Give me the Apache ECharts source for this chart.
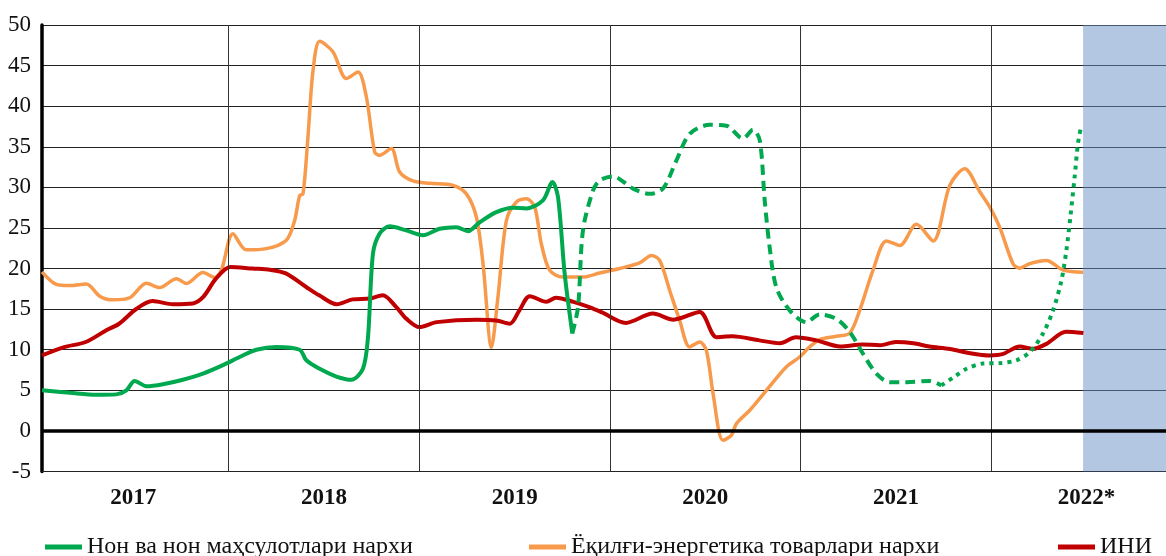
<!DOCTYPE html>
<html>
<head>
<meta charset="utf-8">
<script src="https://cdn.jsdelivr.net/npm/echarts@6/dist/echarts.min.js"></script>
<style>html,body{margin:0;padding:0;background:#fff}#c{width:1166px;height:556px}</style>
</head>
<body>
<div id="c"></div>
<script>
// x = months since Jan 2017
const yearLabels = ['2017','2018','2019','2020','2021','2022*'];
const yearCenters = [6,18,30,42,54,66];
const yearBounds = [12,24,36,48,60];
const forecastStart = 65.78;

const seriesNames = ['Нон ва нон маҳсулотлари нархи','Ёқилғи-энергетика товарлари нархи','ИНИ'];

const breadSolid = [[0.25,5.0],[2.0,4.7],[3.67,4.45],[4.93,4.5],[5.56,5.0],[6.08,6.15],[6.82,5.5],[7.86,5.75],[9.12,6.3],[10.38,7.05],[11.64,8.1],[12.69,9.1],[13.74,10.0],[15.0,10.35],[16.47,10.0],[16.89,8.7],[17.73,7.65],[18.78,6.7],[19.72,6.3],[20.45,7.65],[20.77,11.55],[21.08,21.8],[21.5,24.3],[22.13,25.2],[23.18,24.7],[24.23,24.1],[25.28,24.9],[26.33,25.1],[27.06,24.6],[27.8,25.7],[28.85,26.95],[29.9,27.5],[30.74,27.4],[31.78,28.4],[32.38,30.65],[32.73,28.8],[33.15,19.35],[33.63,12.0]];
const breadDashed = [[33.63,12.0],[33.99,15.25],[34.3,24.7],[34.93,29.6],[35.35,30.85],[36.19,31.35],[37.45,29.85],[38.5,29.2],[39.34,29.85],[40.18,33.3],[41.02,36.6],[42.28,37.7],[43.33,37.6],[44.37,36.0],[45.0,37.1],[45.43,35.8],[45.74,28.4],[46.05,22.65],[46.47,17.7],[47.31,14.85],[48.36,13.4],[49.2,14.35],[50.25,13.8],[51.09,12.2],[51.93,9.5],[52.77,7.05],[53.61,6.0],[54.66,6.0],[56.13,6.15],[56.86,5.6]];
const breadDotted = [[56.86,5.6],[57.59,6.55],[58.44,7.65],[59.48,8.3],[60.53,8.35],[61.58,8.7],[62.42,9.7],[63.26,12.0],[63.89,14.85],[64.42,18.55],[64.73,22.25],[64.98,26.35],[65.25,31.3],[65.46,35.4],[65.67,37.65]];

const fuel = [[0.25,19.6],[1.15,18.05],[1.99,17.9],[3.04,18.1],[3.88,16.6],[4.71,16.15],[5.77,16.4],[6.82,18.2],[7.65,17.65],[8.71,18.75],[9.34,18.15],[10.38,19.5],[11.12,18.9],[11.54,19.8],[12.27,24.3],[13.11,22.3],[14.37,22.45],[15.63,23.5],[16.15,25.9],[16.47,29.0],[16.68,29.2],[16.99,36.2],[17.31,44.4],[17.73,48.0],[18.56,46.7],[19.41,43.4],[20.14,44.2],[20.67,41.1],[21.19,34.35],[21.5,33.95],[22.24,34.8],[22.76,31.9],[23.6,30.8],[24.65,30.5],[26.12,30.25],[26.96,29.2],[27.59,26.35],[28.01,20.6],[28.54,10.3],[28.95,16.5],[29.48,25.9],[30.11,28.2],[30.74,28.6],[31.26,27.6],[31.68,23.05],[32.2,19.8],[33.04,18.95],[34.3,18.95],[35.35,19.45],[36.61,20.0],[37.87,20.7],[38.61,21.6],[39.13,21.0],[39.76,17.3],[40.39,13.6],[41.02,10.35],[41.65,10.95],[42.07,9.9],[42.49,4.6],[43.11,-1.15],[43.64,-0.55],[43.96,0.9],[44.8,2.55],[45.85,5.0],[47.11,7.9],[47.94,9.1],[48.57,10.35],[49.2,11.25],[50.25,11.65],[51.09,12.05],[51.72,14.85],[52.56,19.8],[53.4,23.4],[54.24,22.85],[55.29,25.45],[56.34,23.4],[57.39,30.25],[58.33,32.3],[59.27,29.5],[59.9,27.6],[60.53,25.1],[61.37,20.6],[61.79,20.05],[62.42,20.6],[63.47,21.0],[64.52,19.8],[65.78,19.55]];

const cpi = [[0.25,9.3],[1.6,10.3],[3.0,10.95],[4.3,12.4],[5.1,13.2],[6.2,15.05],[7.2,16.0],[8.5,15.6],[9.75,15.7],[10.4,16.5],[11.2,18.75],[12.1,20.2],[13.5,20.0],[14.6,19.85],[15.6,19.4],[16.9,17.7],[17.7,16.7],[18.8,15.6],[19.8,16.2],[20.9,16.3],[21.7,16.7],[22.55,15.25],[23.2,13.8],[24.0,12.8],[25.1,13.4],[27.6,13.7],[28.85,13.6],[29.7,13.2],[30.3,14.85],[30.95,16.6],[32.0,15.9],[32.6,16.4],[33.7,15.9],[34.7,15.25],[35.5,14.6],[37.0,13.3],[38.7,14.45],[40.0,13.7],[41.65,14.65],[42.7,11.55],[43.7,11.65],[45.4,11.15],[46.7,10.8],[47.7,11.55],[49.0,11.15],[50.5,10.4],[51.9,10.65],[53.0,10.55],[54.0,10.95],[55.1,10.8],[56.1,10.4],[57.4,10.1],[58.6,9.6],[59.9,9.3],[60.7,9.45],[61.8,10.4],[62.6,10.1],[63.5,10.75],[64.7,12.2],[65.8,12.05]];

const GREEN = '#00A84F', ORANGE = '#F79A4C', RED = '#C00000';
const FONT = 'Liberation Serif';

const chart = echarts.init(document.getElementById('c'), null, {renderer:'canvas'});
const legendCommon = {
  top: 535, icon: 'rect', itemWidth: 37, itemHeight: 5, padding: 0,
  textStyle: {fontFamily: FONT, fontSize: 24, color: '#111'}, selectedMode: false
};
chart.setOption({
  animation: false,
  backgroundColor: '#fff',
  grid: {left: 42, right: 0, top: 25, bottom: 84.5, containLabel: false},
  legend: [
    Object.assign({data: [seriesNames[0]], left: 45}, legendCommon),
    Object.assign({data: [seriesNames[1]], left: 529}, legendCommon),
    Object.assign({data: [seriesNames[2]], left: 1058}, legendCommon)
  ],
  xAxis: {
    type: 'value', min: 0.25, max: 71,
    axisLine: {show: true, onZero: false, lineStyle: {color: '#222', width: 1}},
    axisTick: {show: false},
    splitLine: {show: false},
    axisLabel: {
      customValues: yearCenters,
      formatter: v => yearLabels[yearCenters.indexOf(Math.round(v))] || '',
      fontFamily: FONT, fontWeight: 'bold', fontSize: 23, color: '#111', margin: 15
    }
  },
  yAxis: {
    type: 'value', min: -5, max: 50, interval: 5,
    axisLine: {show: true, lineStyle: {color: '#000', width: 3.5}},
    axisTick: {show: false},
    splitLine: {show: true, lineStyle: {color: '#222', width: 1}},
    axisLabel: {fontFamily: FONT, fontSize: 23, color: '#111', margin: 11}
  },
  series: [
    {
      type: 'line', name: 'frame', data: [], z: 1, silent: true,
      markArea: {silent: true, itemStyle: {color: 'rgba(103,143,199,0.5)'},
        data: [[{xAxis: forecastStart}, {xAxis: 71}]]},
      markLine: {silent: true, symbol: 'none', label: {show: false},
        data: yearBounds.map(v => ({xAxis: v, lineStyle: {color: '#333', width: 1, type: 'solid'}}))
          .concat([{yAxis: 0, lineStyle: {color: '#000', width: 3.5, type: 'solid'}}])}
    },
    {type: 'line', name: seriesNames[1], data: fuel, smooth: 0.3, showSymbol: false, z: 3,
      lineStyle: {color: ORANGE, width: 3.5}, itemStyle: {color: ORANGE}},
    {type: 'line', name: seriesNames[2], data: cpi, smooth: 0.3, showSymbol: false, z: 4,
      lineStyle: {color: RED, width: 4}, itemStyle: {color: RED}},
    {type: 'line', name: seriesNames[0], data: breadSolid, smooth: 0.3, showSymbol: false, z: 5,
      lineStyle: {color: GREEN, width: 4}, itemStyle: {color: GREEN}},
    {type: 'line', name: 'bread2', data: breadDashed, smooth: 0.3, showSymbol: false, z: 5,
      lineStyle: {color: GREEN, width: 4, type: [10, 6]}, itemStyle: {color: GREEN}},
    {type: 'line', name: 'bread3', data: breadDotted, smooth: 0.3, showSymbol: false, z: 5,
      lineStyle: {color: GREEN, width: 4, type: [4, 5]}, itemStyle: {color: GREEN}}
  ]
});
</script>
</body>
</html>
